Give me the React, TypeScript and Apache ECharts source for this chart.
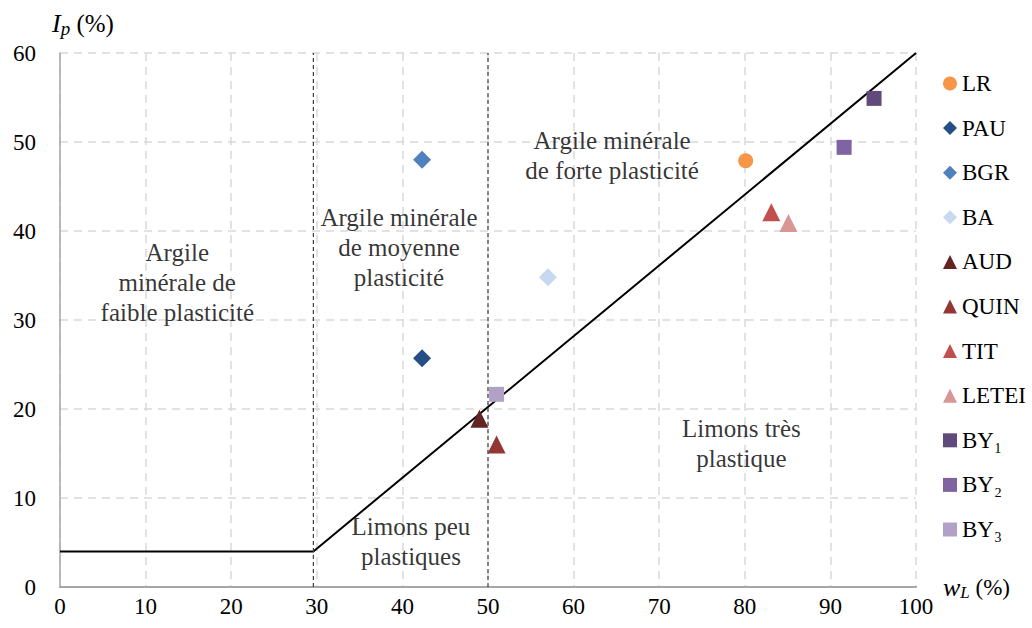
import React, { useEffect, useRef } from "react";
import * as echarts from "echarts";

const FONT = "Liberation Serif";

const seriesNames = ["LR", "PAU", "BGR", "BA", "AUD", "QUIN", "TIT", "LETEI", "BY₁", "BY₂", "BY₃"];
const seriesColors = ["#F79646", "#254E84", "#4F81BD", "#C6D9F1", "#632523", "#943634", "#C0504D", "#D99694", "#604A7B", "#8064A2", "#B2A1C7"];
const seriesSymbols = ["circle", "diamond", "diamond", "diamond", "triangle", "triangle", "triangle", "triangle", "rect", "rect", "rect"];
const seriesSizes = [15, 18, 18, 18, 18, 18, 18, 18, 15, 15, 15];
const seriesPoints: number[][][] = [
  [[80.1, 47.9]],
  [[42.3, 25.7]],
  [[42.3, 48.0]],
  [[57.0, 34.8]],
  [[49.0, 18.9]],
  [[51.0, 16.0]],
  [[83.1, 42.1]],
  [[85.1, 40.9]],
  [[95.1, 54.9]],
  [[91.6, 49.4]],
  [[51.0, 21.65]],
];

const aLine = [[0, 4], [29.6, 4], [100, 60]];
const vLine1 = [[29.6, 0], [29.6, 60]];
const vLine2 = [[50, 0], [50, 60]];

const zoneLabels = [
  { text: "Argile\nminérale de\nfaible plasticité", x: 13.7, y: 34.2 },
  { text: "Argile minérale\nde moyenne\nplasticité", x: 39.6, y: 38.2 },
  { text: "Argile minérale\nde forte plasticité", x: 64.5, y: 48.5 },
  { text: "Limons très\nplastique", x: 79.6, y: 16.1 },
  { text: "Limons peu\nplastiques", x: 41, y: 5.1 },
];

export default function App() {
  const ref = useRef<HTMLDivElement>(null);
  useEffect(() => {
    const chart = echarts.init(ref.current!, undefined, { renderer: "svg" });
    const scatter = seriesNames.map((n, i) => ({
      name: n,
      type: "scatter",
      symbol: seriesSymbols[i],
      symbolSize: seriesSizes[i],
      itemStyle: { color: seriesColors[i], opacity: 1 },
      data: seriesPoints[i],
      z: 5,
    }));
    chart.setOption({
      animation: false,
      textStyle: { fontFamily: FONT },
      grid: { left: 60, right: 116, top: 53, bottom: 41 },
      legend: {
        data: seriesNames,
        orient: "vertical",
        left: 938,
        top: 67,
        itemWidth: 14,
        itemHeight: 14,
        itemGap: 21.6,
        textStyle: { fontFamily: FONT, fontSize: 23, color: "#000" },
      },
      xAxis: {
        type: "value",
        min: 0,
        max: 100,
        interval: 10,
        axisLine: { show: true, lineStyle: { color: "#A6A6A6", width: 2 } },
        axisTick: { show: false },
        axisLabel: { fontFamily: FONT, fontSize: 23, color: "#000", margin: 8 },
        splitLine: { show: true, lineStyle: { color: "#D9D9D9", width: 1.5, type: [8, 6] } },
      },
      yAxis: {
        type: "value",
        min: 0,
        max: 60,
        interval: 10,
        axisLine: { show: true, lineStyle: { color: "#A6A6A6", width: 1.5 } },
        axisTick: { show: false },
        axisLabel: { fontFamily: FONT, fontSize: 23, color: "#000", margin: 24 },
        splitLine: { show: true, lineStyle: { color: "#D9D9D9", width: 1.5, type: [8, 6] } },
      },
      series: [
        {
          type: "line",
          data: aLine,
          symbol: "none",
          lineStyle: { color: "#000", width: 2 },
          z: 3,
          silent: true,
        },
        {
          type: "line",
          data: vLine1,
          symbol: "none",
          lineStyle: { color: "#404040", width: 1.2, type: [4, 3] },
          z: 3,
          silent: true,
        },
        {
          type: "line",
          data: vLine2,
          symbol: "none",
          lineStyle: { color: "#404040", width: 1.2, type: [4, 3] },
          z: 3,
          silent: true,
        },
        {
          type: "scatter",
          symbolSize: 0,
          silent: true,
          data: zoneLabels.map((z) => ({ value: [z.x, z.y], name: z.text })),
          label: {
            show: true,
            position: "inside",
            formatter: (p: any) => p.name,
            fontFamily: FONT,
            fontSize: 25,
            lineHeight: 30,
            color: "#000",
            align: "center",
            verticalAlign: "middle",
          },
          z: 4,
        },
        ...scatter,
      ],
      graphic: [
        {
          type: "text",
          left: 52,
          top: 10,
          style: {
            text: "{i|I}{s|p}{n| (%)}",
            rich: {
              i: { fontFamily: FONT, fontSize: 26, fontStyle: "italic", color: "#000" },
              s: { fontFamily: FONT, fontSize: 19, fontStyle: "italic", color: "#000", padding: [10, 0, 0, 0] },
              n: { fontFamily: FONT, fontSize: 25, color: "#000" },
            },
          },
        },
        {
          type: "text",
          left: 943,
          top: 574,
          style: {
            text: "{i|w}{s|L}{n| (%)}",
            rich: {
              i: { fontFamily: FONT, fontSize: 26, fontStyle: "italic", color: "#000" },
              s: { fontFamily: FONT, fontSize: 17, fontStyle: "italic", color: "#000", padding: [10, 0, 0, 0] },
              n: { fontFamily: FONT, fontSize: 23, color: "#000" },
            },
          },
        },
      ],
    });
    return () => chart.dispose();
  }, []);
  return <div ref={ref} style={{ width: 1032, height: 628, position: "absolute", left: 0, top: 0 }} />;
}
